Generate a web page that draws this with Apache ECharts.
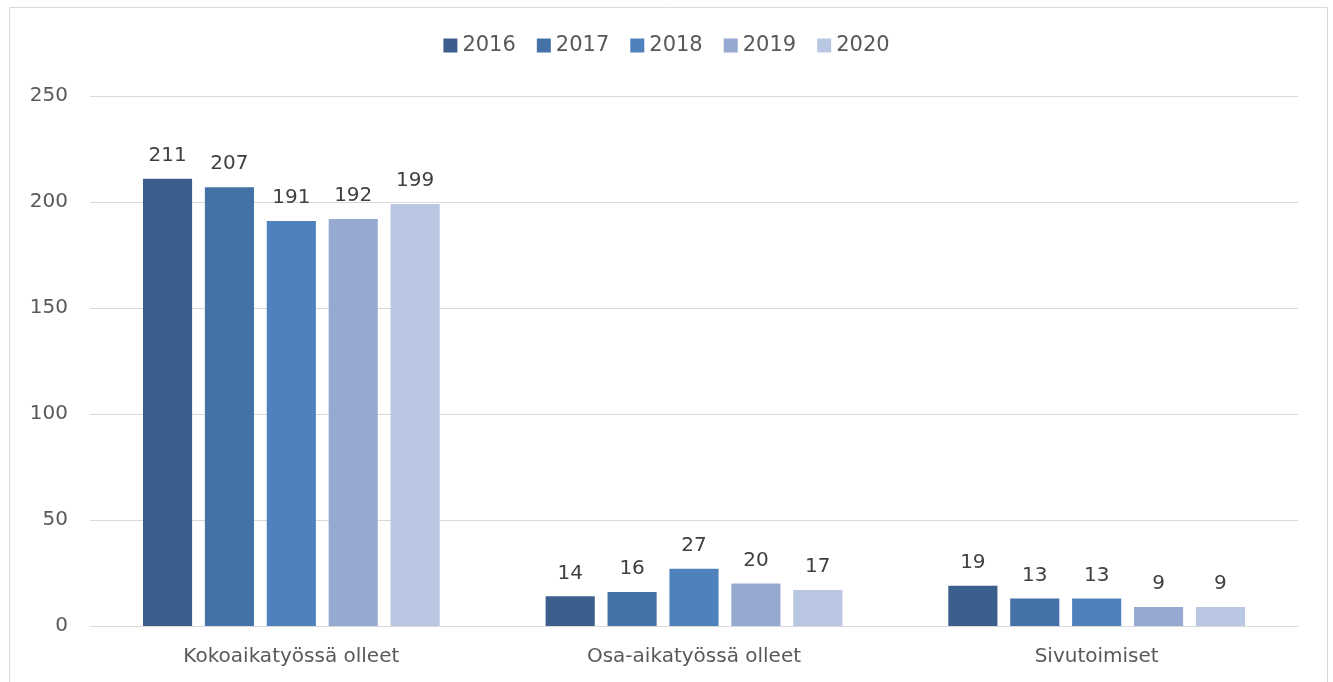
<!DOCTYPE html>
<html><head><meta charset="utf-8">
<script src="https://cdn.jsdelivr.net/npm/echarts@6/dist/echarts.min.js"></script>
<style>html,body{margin:0;padding:0;background:#fff}#c{width:1333px;height:682px}</style>
</head><body><div id="c"></div>
<script>
const categories = ['Kokoaikatyössä olleet', 'Osa-aikatyössä olleet', 'Sivutoimiset'];
const years = ['2016', '2017', '2018', '2019', '2020'];
const v2016 = [211, 14, 19];
const v2017 = [207, 16, 13];
const v2018 = [191, 27, 13];
const v2019 = [192, 20, 9];
const v2020 = [199, 17, 9];
const yTicks = [0, 50, 100, 150, 200, 250];
const colors = ['#3B5E8C', '#4472A6', '#4F81BD', '#95A9D1', '#B9C7E2'];
const values = [v2016, v2017, v2018, v2019, v2020];
const font = 'DejaVu Sans, sans-serif';
const chart = echarts.init(document.getElementById('c'));
chart.setOption({
  animation: false,
  color: colors,
  graphic: [{type: 'rect', shape: {x: 9.5, y: 7.5, width: 1318, height: 700}, style: {fill: 'none', stroke: '#d9d9d9', lineWidth: 1}, z: -1}],
  legend: {top: 30, left: 'center', itemWidth: 14, itemHeight: 14, itemGap: 21, icon: 'rect',
    textStyle: {fontSize: 21, color: '#595959', fontFamily: font}, data: years},
  grid: {left: 90, right: 35, top: 96, bottom: 56},
  xAxis: {type: 'category', data: categories, axisTick: {show: false},
    axisLine: {lineStyle: {color: '#d9d9d9', width: 1}},
    axisLabel: {fontSize: 20, color: '#595959', fontFamily: font, margin: 21}},
  yAxis: {type: 'value', min: 0, max: 250, interval: 50,
    axisLabel: {fontSize: 20, color: '#595959', fontFamily: font, margin: 22},
    splitLine: {lineStyle: {color: '#d9d9d9', width: 1}}, axisLine: {show: false}, axisTick: {show: false}},
  series: years.map((y, i) => ({
    name: y, type: 'bar', data: values[i], barWidth: '12.2%', barGap: '26%', barCategoryGap: '26%',
    label: {show: true, position: 'top', distance: 13, fontSize: 20, color: '#404040', fontFamily: font}
  }))
});
</script></body></html>
